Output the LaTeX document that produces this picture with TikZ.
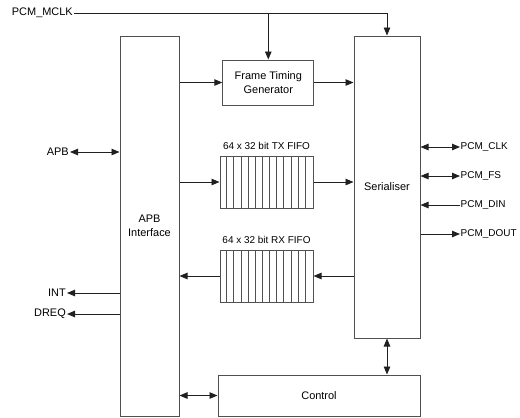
\documentclass[tikz,border=0pt]{standalone}
\usepackage{fontspec}
\setmainfont{Liberation Sans}
\usetikzlibrary{arrows.meta, positioning}
\definecolor{boxline}{HTML}{505050}
\definecolor{wireblk}{HTML}{202020}

\begin{document}
\begin{tikzpicture}[x=1bp, y=-1bp, >={Triangle[length=8bp, width=6.5bp]},
  block/.style={draw=boxline, line width=1bp, fill=white, align=center,
    inner sep=0pt, font=\fontsize{11}{14}\selectfont},
  wire/.style={draw=wireblk, line width=0.9bp},
  sig/.style={inner sep=1pt, font=\fontsize{11}{13}\selectfont},
  pcmsig/.style={inner sep=0.5pt, font=\fontsize{10}{12}\selectfont},
  fifolabel/.style={inner sep=0pt, font=\fontsize{10}{12}\selectfont}]

\useasboundingbox (0,0) rectangle (520,417);

%% Blocks
\node[block, minimum width=59bp, minimum height=380bp] (apb) at (149.5,226) {APB\\Interface};
\node[block, minimum width=91bp, minimum height=45bp] (ftg) at (268.3,82.5) {Frame Timing\\Generator};
\node[block, minimum width=66bp, minimum height=302bp] (ser) at (387,187) {Serialiser};
\node[block, minimum width=202bp, minimum height=41bp] (ctrl) at (319,395.5) {Control};

% FIFOs
\node[block, minimum width=93bp, minimum height=52bp] (tx) at (266.5,182) {};
\node[block, minimum width=93bp, minimum height=52bp] (rx) at (266.5,276) {};
\foreach \f in {tx,rx} {
  \foreach \i in {1,...,12} {
    \draw[boxline, line width=0.8bp] ([xshift=\i*7.154bp]\f.north west) -- ([xshift=\i*7.154bp]\f.south west);
  }
}
\node[fifolabel, above=6bp of tx] (txlbl) {64 x 32 bit TX FIFO};
\node[fifolabel, above=6bp of rx] (rxlbl) {64 x 32 bit RX FIFO};

%% Master clock
\node[sig, anchor=east] (mclk) at (74,13) {PCM\_MCLK};
\coordinate (mclkend) at (387,13);
\draw[wire] (mclk.east) -- (mclkend);
\draw[wire, ->] (mclkend) -- (ser.north);
\draw[wire, ->] (ftg.north |- mclk.east) -- (ftg.north);

%% Internal data paths
\draw[wire, ->] (apb.east |- ftg.west) -- (ftg.west);
\draw[wire, ->] (ftg.east) -- (ser.west |- ftg.east);
\draw[wire, ->] (apb.east |- tx.west) -- (tx.west);
\draw[wire, ->] (tx.east) -- (ser.west |- tx.east);
\draw[wire, ->] (ser.west |- rx.east) -- (rx.east);
\draw[wire, ->] (rx.west) -- (apb.east |- rx.west);
\draw[wire, <->] (ser.south) -- (ser.south |- ctrl.north);
\draw[wire, <->] (apb.east |- ctrl.west) -- (ctrl.west);

%% APB side
\node[sig, anchor=east] (apbbus) at (70,152) {APB};
\node[sig, anchor=east] (int) at (67,293) {INT};
\node[sig, anchor=east] (dreq) at (67,314) {DREQ};
\draw[wire, <->] (apbbus.east) -- (apb.west |- apbbus.east);
\draw[wire, ->] (apb.west |- int.east) -- (int.east);
\draw[wire, ->] (apb.west |- dreq.east) -- (dreq.east);

%% PCM side
\node[pcmsig, anchor=west] (pclk) at (460,147) {PCM\_CLK};
\node[pcmsig, anchor=west] (pfs) at (460,176) {PCM\_FS};
\node[pcmsig, anchor=west] (pdin) at (460,205) {PCM\_DIN};
\node[pcmsig, anchor=west] (pdout) at (460,234) {PCM\_DOUT};
\draw[wire, <->] (ser.east |- pclk.west) -- (pclk.west);
\draw[wire, <->] (ser.east |- pfs.west) -- (pfs.west);
\draw[wire, ->] (pdin.west) -- (ser.east |- pdin.west);
\draw[wire, ->] (ser.east |- pdout.west) -- (pdout.west);

\end{tikzpicture}
\end{document}
